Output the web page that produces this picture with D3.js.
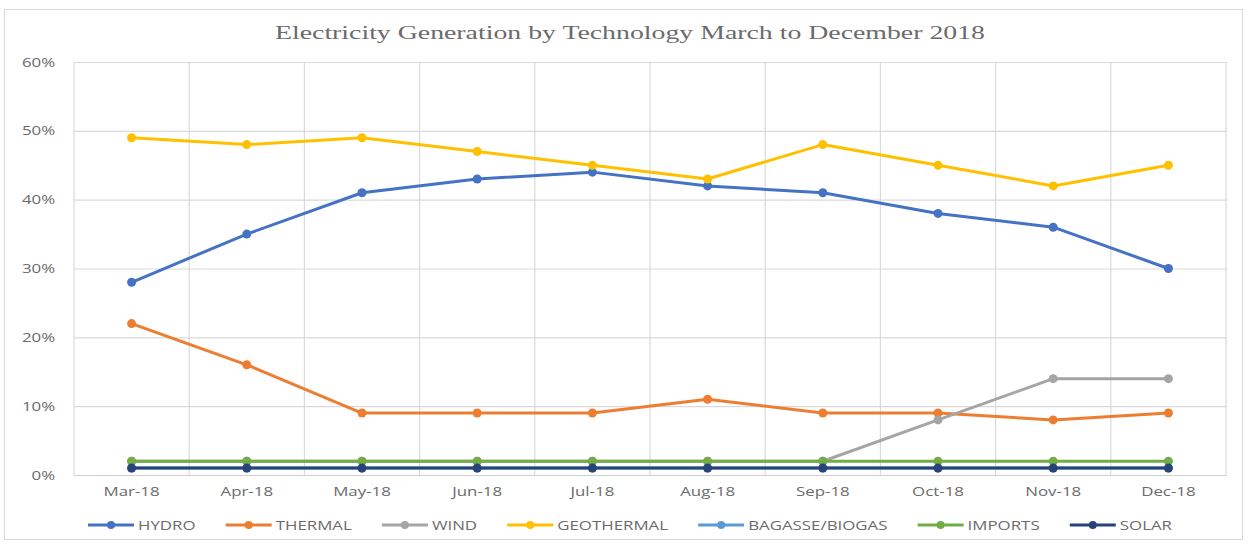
<!DOCTYPE html>
<html>
<head>
<meta charset="utf-8">
<script src="https://cdn.jsdelivr.net/npm/d3@7"></script>
<style>
  html, body { margin: 0; padding: 0; background: #fff; }
  svg { display: block; }
</style>
</head>
<body>
<svg id="chart" width="1253" height="546"></svg>
<script>
// Monthly share of generation by technology (percent)
const months = ["Mar-18", "Apr-18", "May-18", "Jun-18", "Jul-18", "Aug-18", "Sep-18", "Oct-18", "Nov-18", "Dec-18"];
const hydro      = [28, 35, 41, 43, 44, 42, 41, 38, 36, 30];
const thermal    = [22, 16, 9, 9, 9, 11, 9, 9, 8, 9];
const wind       = [2, 2, 2, 2, 2, 2, 2, 8, 14, 14];
const geothermal = [49, 48, 49, 47, 45, 43, 48, 45, 42, 45];
const bagasse    = [1, 1, 1, 1, 1, 1, 1, 1, 1, 1];
const imports    = [2, 2, 2, 2, 2, 2, 2, 2, 2, 2];
const solar      = [1, 1, 1, 1, 1, 1, 1, 1, 1, 1];
const yTicks = [0, 10, 20, 30, 40, 50, 60];

const seriesNames  = ["HYDRO", "THERMAL", "WIND", "GEOTHERMAL", "BAGASSE/BIOGAS", "IMPORTS", "SOLAR"];
const seriesValues = [hydro, thermal, wind, geothermal, bagasse, imports, solar];
const seriesColors = ["#4472C4", "#ED7D31", "#A5A5A5", "#FFC000", "#5B9BD5", "#70AD47", "#264478"];

const svg = d3.select("#chart");
const plot = { left: 74, right: 1226, top: 62, bottom: 475 };
const labelFont = "'Open Sans', 'DejaVu Sans', sans-serif";
const textColor = "#6b6b6b";
const stretch = 1.35; // labels are set wide

// outer chart frame
svg.append("rect")
  .attr("x", 4.5).attr("y", 9.5).attr("width", 1238).attr("height", 530)
  .attr("fill", "#fff").attr("stroke", "#d9d9d9").attr("stroke-width", 1);

// title
svg.append("text")
  .attr("x", 630).attr("y", 39)
  .attr("text-anchor", "middle")
  .attr("font-family", "'Liberation Serif', 'DejaVu Serif', serif")
  .attr("font-size", 19.5)
  .attr("fill", "#6b6b6b")
  .attr("textLength", 710)
  .attr("lengthAdjust", "spacingAndGlyphs")
  .text("Electricity Generation by Technology March to December 2018");

const x = d3.scaleBand().domain(months).range([plot.left, plot.right]).paddingInner(0).paddingOuter(0);
const y = d3.scaleLinear().domain([0, 60]).range([plot.bottom, plot.top]);
const cx = m => x(m) + x.bandwidth() / 2;

// horizontal gridlines + y labels
const yAxis = d3.axisLeft(y).tickValues(yTicks).tickFormat(d => d + "%")
  .tickSize(-(plot.right - plot.left)).tickPadding(14);
const gy = svg.append("g").attr("transform", `translate(${plot.left},0)`).call(yAxis);
gy.select(".domain").remove();
gy.selectAll(".tick line").attr("stroke", "#d9d9d9").attr("stroke-width", 1.2);
gy.selectAll(".tick text")
  .attr("font-family", labelFont).attr("font-size", 12.5).attr("fill", textColor)
  .attr("transform", `scale(${stretch},1)`);

// vertical category gridlines (between categories)
const bounds = months.map(m => x(m)).concat([plot.right]);
svg.append("g").selectAll("line").data(bounds).join("line")
  .attr("x1", d => d).attr("x2", d => d)
  .attr("y1", plot.top).attr("y2", plot.bottom)
  .attr("stroke", "#d9d9d9").attr("stroke-width", 1.2);

// x axis labels
const xAxis = d3.axisBottom(x).tickSize(0).tickPadding(12);
const gx = svg.append("g").attr("transform", `translate(0,${plot.bottom})`).call(xAxis);
gx.select(".domain").attr("stroke", "#d0d0d0").attr("stroke-width", 1.2);
gx.selectAll(".tick text")
  .attr("font-family", labelFont).attr("font-size", 12.5).attr("fill", textColor)
  .attr("transform", `scale(${stretch},1)`);

// series lines and markers
const line = d3.line().x((d, i) => cx(months[i])).y(d => y(d));
seriesValues.forEach((vals, si) => {
  const g = svg.append("g");
  g.append("path")
    .datum(vals)
    .attr("d", line)
    .attr("fill", "none")
    .attr("stroke", seriesColors[si])
    .attr("stroke-width", 3)
    .attr("stroke-linejoin", "round");
  g.selectAll("circle").data(vals).join("circle")
    .attr("cx", (d, i) => cx(months[i]))
    .attr("cy", d => y(d))
    .attr("r", 4.5)
    .attr("fill", seriesColors[si]);
});

// legend
const legend = svg.append("g");
const legendY = 525;
const swatch = 46, textGap = 4;
const items = legend.selectAll("g").data(seriesNames).join("g");
items.append("line")
  .attr("x1", 0).attr("x2", swatch).attr("y1", 0).attr("y2", 0)
  .attr("stroke", (d, i) => seriesColors[i]).attr("stroke-width", 3);
items.append("circle")
  .attr("cx", swatch / 2).attr("cy", 0).attr("r", 4)
  .attr("fill", (d, i) => seriesColors[i]);
items.append("text")
  .attr("x", (swatch + textGap) / stretch).attr("y", 4.5)
  .attr("font-family", labelFont).attr("font-size", 12.5)
  .attr("fill", textColor)
  .attr("transform", `scale(${stretch},1)`)
  .text(d => d);

const widths = [];
items.each(function () {
  widths.push(swatch + textGap + stretch * this.querySelector("text").getComputedTextLength());
});
const legendStart = 88, legendEnd = 1172;
const gap = (legendEnd - legendStart - d3.sum(widths)) / (widths.length - 1);
let pos = legendStart;
items.each(function (d, i) {
  d3.select(this).attr("transform", `translate(${pos},${legendY})`);
  pos += widths[i] + gap;
});
</script>
</body>
</html>
